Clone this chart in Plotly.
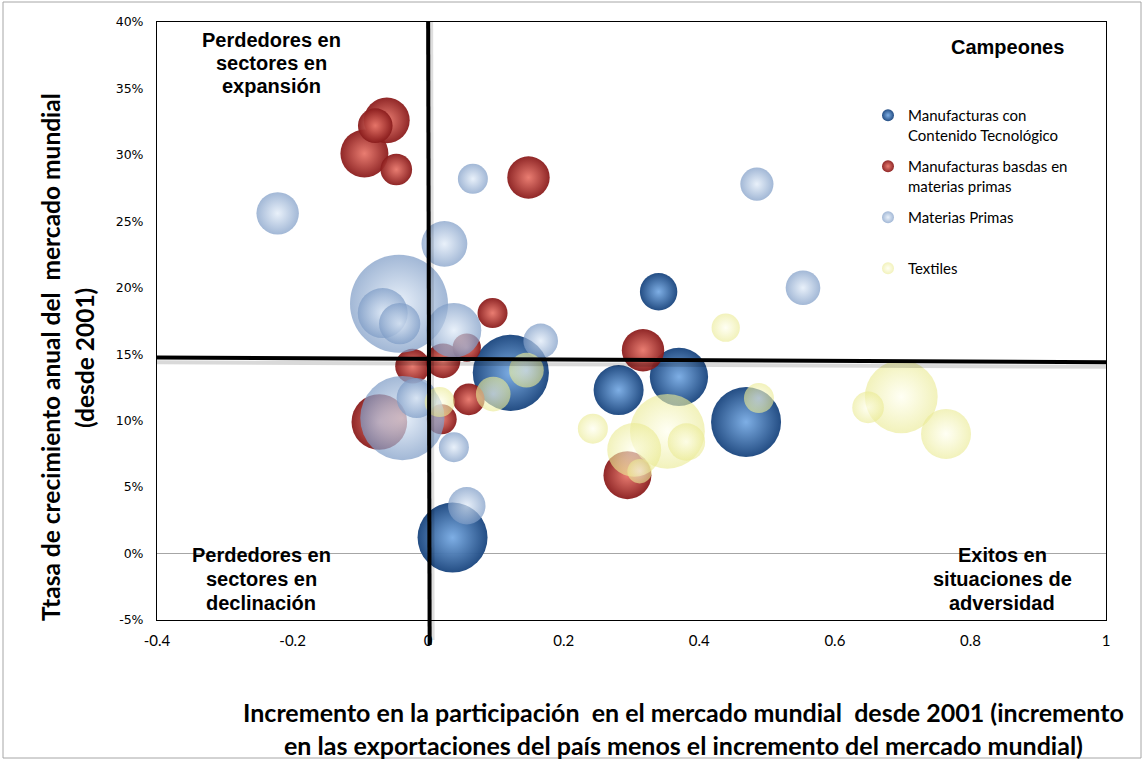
import plotly.graph_objects as go

# ---------------- data ----------------
# Manufacturas con Contenido Tecnológico
mct_x = [0.340, 0.281, 0.370, 0.469, 0.122, 0.036]
mct_y = [0.197, 0.123, 0.133, 0.099, 0.136, 0.012]
mct_size = [14, 25, 34, 49, 58, 49]

# Manufacturas basadas en materias primas
mbm_x = [-0.061, -0.078, -0.094, -0.047, 0.148, 0.095, -0.023, 0.022, 0.057, 0.060, 0.020, -0.072, 0.317, 0.294]
mbm_y = [0.326, 0.322, 0.301, 0.289, 0.283, 0.181, 0.141, 0.145, 0.155, 0.116, 0.101, 0.099, 0.153, 0.059]
mbm_size = [21, 12, 23, 10, 18, 9, 12, 12, 8, 10, 9, 31, 18, 23]

# Materias Primas
mp_x = [-0.222, 0.066, 0.024, -0.043, -0.067, -0.042, 0.038, 0.166, -0.038, -0.017, 0.038, 0.057, 0.485, 0.553]
mp_y = [0.256, 0.282, 0.233, 0.188, 0.181, 0.173, 0.168, 0.160, 0.102, 0.117, 0.080, 0.036, 0.278, 0.200]
mp_size = [18, 9, 21, 96, 25, 17, 30, 12, 71, 16, 9, 14, 11, 12]

# Textiles
tex_x = [0.439, 0.243, 0.353, 0.304, 0.381, 0.312, 0.488, 0.698, 0.649, 0.764, 0.145, 0.096, 0.017]
tex_y = [0.170, 0.094, 0.092, 0.078, 0.084, 0.062, 0.117, 0.118, 0.110, 0.090, 0.138, 0.120, 0.114]
tex_size = [8, 9, 56, 29, 14, 6, 9, 53, 10, 25, 12, 12, 9]

series_names = [
    "Manufacturas con<br>Contenido Tecnológico",
    "Manufacturas basdas en<br>materias primas",
    "Materias Primas<br> ",
    "Textiles",
]

x_tick_vals = [-0.4, -0.2, 0, 0.2, 0.4, 0.6, 0.8, 1]
x_tick_text = ["-0.4", "-0.2", "0", "0.2", "0.4", "0.6", "0.8", "1"]
y_tick_vals = [-0.05, 0, 0.05, 0.10, 0.15, 0.20, 0.25, 0.30, 0.35, 0.40]
y_tick_text = ["-5%", "0%", "5%", "10%", "15%", "20%", "25%", "30%", "35%", "40%"]

# quadrant reference lines (x = 0, y ≈ 14.6%)
h_line_y = [0.1475, 0.144]
v_line_x = 0.0

X_RANGE = [-0.4, 1.0]
Y_RANGE = [-0.05, 0.40]

# ---------------- figure ----------------
W, H = 1143, 760
L, R, T, B = 157, 1143 - 1106, 22, 760 - 620
PW, PH = W - L - R, H - T - B


def px_x(p):
    return (p - L) / PW


def px_y(p):
    return (H - B - p) / PH


SIZEREF = 0.02


def order(xs, ys, ss):
    idx = sorted(range(len(ss)), key=lambda i: -ss[i])
    return [xs[i] for i in idx], [ys[i] for i in idx], [ss[i] for i in idx]


styles = [
    dict(edge="#1D4880", center="#7AACE4", opacity=0.97),
    dict(edge="#8A1C1C", center="#E8766A", opacity=0.95),
    dict(edge="#7E9CC6", center="#E0EBF8", opacity=0.72),
    dict(edge="#EAEA92", center="#FFFFEE", opacity=0.62),
]
datasets = [
    (mct_x, mct_y, mct_size),
    (mbm_x, mbm_y, mbm_size),
    (mp_x, mp_y, mp_size),
    (tex_x, tex_y, tex_size),
]

fig = go.Figure()
for k, (name, (xs, ys, ss), st) in enumerate(zip(series_names, datasets, styles)):
    xs2, ys2, ss2 = order(xs, ys, ss)
    fig.add_trace(go.Scatter(
        x=xs2, y=ys2, mode="markers", name=name, legendgroup="g%d" % k,
        marker=dict(
            size=ss2, sizemode="area", sizeref=SIZEREF,
            color=st["edge"], opacity=st["opacity"],
            gradient=dict(type="radial", color=st["center"]),
            line=dict(width=0),
        ),
        hoverinfo="skip",
    ))

v_paper = (v_line_x - X_RANGE[0]) / (X_RANGE[1] - X_RANGE[0])
shapes = []
# shadows
shapes.append(dict(type="line", xref="x", yref="y", x0=X_RANGE[0], x1=X_RANGE[1],
                   y0=h_line_y[0] - 0.0035, y1=h_line_y[1] - 0.0035,
                   line=dict(color="rgba(0,0,0,0.15)", width=4), layer="above"))
shapes.append(dict(type="line", xref="paper", yref="paper",
                   x0=v_paper + 3 / PW, x1=v_paper + 4.5 / PW,
                   y0=1.0, y1=px_y(640),
                   line=dict(color="rgba(0,0,0,0.13)", width=4), layer="above"))
# main thick lines
shapes.append(dict(type="line", xref="x", yref="y", x0=X_RANGE[0], x1=X_RANGE[1],
                   y0=h_line_y[0], y1=h_line_y[1],
                   line=dict(color="black", width=4), layer="above"))
shapes.append(dict(type="line", xref="paper", yref="paper",
                   x0=v_paper, x1=v_paper + 1.5 / PW,
                   y0=1.0, y1=px_y(645),
                   line=dict(color="black", width=4), layer="above"))
# outer chart border
shapes.append(dict(type="rect", xref="paper", yref="paper",
                   x0=px_x(3), x1=px_x(1141), y0=px_y(758), y1=px_y(2),
                   line=dict(color="#A6A6A6", width=1), layer="below"))

quad_font = dict(family="Liberation Sans, Arial, sans-serif", size=20, color="black")
title_font = dict(family="Lato, sans-serif", size=25, color="black")
ytitle_font = dict(family="Lato, sans-serif", size=24.5, color="black")

annotations = []


def add_lines(lines, cx, ys, font):
    for line, yy in zip(lines, ys):
        annotations.append(dict(text="<b>%s</b>" % line, x=px_x(cx), y=px_y(yy),
                                xanchor="center", yanchor="middle", font=font))


add_lines(["Perdedores en", "sectores en", "expansión"], 271, [40, 63, 86], quad_font)
add_lines(["Campeones"], 1007, [47], quad_font)
add_lines(["Perdedores en", "sectores en", "declinación"], 261, [555, 579, 603], quad_font)
add_lines(["Exitos en", "situaciones de", "adversidad"], 1002, [555, 579, 603], quad_font)

annotations += [
    dict(text="<b>Ttasa de crecimiento anual del  mercado mundial</b>", x=px_x(50), y=px_y(357),
         xanchor="center", yanchor="middle", textangle=-90, font=ytitle_font),
    dict(text="<b>(desde 2001)</b>", x=px_x(84), y=px_y(358),
         xanchor="center", yanchor="middle", textangle=-90, font=ytitle_font),
    dict(text="<b>Incremento en la participación  en el mercado mundial  desde 2001 (incremento</b>",
         x=px_x(683), y=px_y(712), xanchor="center", yanchor="middle", font=title_font),
    dict(text="<b>en las exportaciones del país menos el incremento del mercado mundial)</b>",
         x=px_x(683), y=px_y(745), xanchor="center", yanchor="middle", font=title_font),
]
for a in annotations:
    a.update(xref="paper", yref="paper", showarrow=False)

fig.update_layout(
    width=W, height=H,
    margin=dict(l=L, r=R, t=T, b=B, autoexpand=False),
    paper_bgcolor="white", plot_bgcolor="white",
    showlegend=True,
    legend=dict(
        x=px_x(868), y=px_y(99), xanchor="left", yanchor="top",
        bgcolor="rgba(0,0,0,0)", valign="top", itemsizing="constant",
        traceorder="grouped", tracegroupgap=9,
        font=dict(family="Lato, sans-serif", size=15, color="black"),
    ),
    xaxis=dict(
        range=X_RANGE, tickvals=x_tick_vals, ticktext=x_tick_text,
        showgrid=False, zeroline=False, showline=True, mirror=True,
        linecolor="black", linewidth=1, ticks="", ticklabelstandoff=7,
        tickfont=dict(family="Lato, sans-serif", size=15, color="black"),
    ),
    yaxis=dict(
        range=Y_RANGE, tickvals=y_tick_vals, ticktext=y_tick_text,
        showgrid=False, zeroline=True, zerolinecolor="#A6A6A6", zerolinewidth=1,
        showline=True, mirror=True, linecolor="black", linewidth=1,
        ticks="", ticklabelstandoff=10,
        tickfont=dict(family="DejaVu Sans, sans-serif", size=12.5, color="black"),
    ),
    shapes=shapes,
    annotations=annotations,
)

fig.write_html("out.html", config={"displayModeBar": False},
               post_script="document.body.style.margin='0';document.body.style.overflow='hidden';")
